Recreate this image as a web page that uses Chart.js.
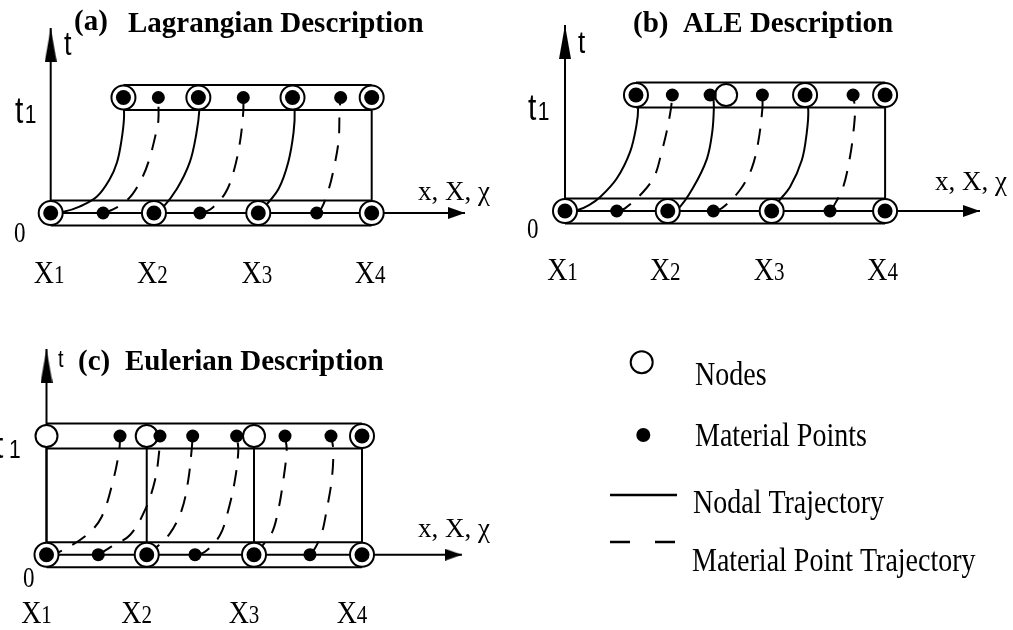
<!DOCTYPE html>
<html>
<head>
<meta charset="utf-8">
<script src="https://cdn.jsdelivr.net/npm/chart.js@4.4.1/dist/chart.umd.min.js"></script>
<style>
html,body{margin:0;padding:0;background:#fff;overflow:hidden}
canvas{display:block;background:#fff}
</style>
</head>
<body>
<canvas id="c" width="1013" height="630"></canvas>
<script>
// ================= DATA (x in element units: X1 = 0 ... X4 = 3; t in units of t1) =================
const xTickLabels = ['X1', 'X2', 'X3', 'X4'];
const tTickLabels = ['0', 't1'];
const xAxisTitle = 'x, X, χ';
const tAxisTitle = 't';
const panelTags = ['(a)', '(b)', '(c)'];
const panelNames = ['Lagrangian Description', 'ALE Description', 'Eulerian Description'];
const legendLabels = ['Nodes', 'Material Points', 'Nodal Trajectory', 'Material Point Trajectory'];

// (a) Lagrangian
const lagNodesAt0 = [0, 0.965, 1.94, 3.0];
const lagPointsAt0 = [0.49, 1.395, 2.486];
const lagNodesAt1 = [0.68, 1.38, 2.26, 3.0];
const lagFreeNodesAt1 = [];
const lagPointsAt1 = [1.006, 1.80, 2.71];
const lagNodePaths = [
  [[0,0],[0.12,0.01],[0.27,0.055],[0.43,0.14],[0.55,0.29],[0.62,0.44],[0.66,0.62],[0.685,0.82],[0.68,1]],
  [[0.965,0],[1.04,0.04],[1.18,0.21],[1.30,0.44],[1.36,0.68],[1.39,0.9],[1.38,1]],
  [[1.94,0],[2.0,0.055],[2.13,0.21],[2.22,0.44],[2.27,0.7],[2.28,0.9],[2.26,1]],
  [[3,0],[3,1]]
];
const lagPointPaths = [
  [[0.49,0],[0.57,0.026],[0.68,0.084],[0.77,0.17],[0.86,0.315],[0.92,0.46],[0.98,0.675],[1.006,0.8],[1.006,1]],
  [[1.395,0],[1.49,0.03],[1.63,0.17],[1.71,0.36],[1.77,0.62],[1.80,0.88],[1.80,1]],
  [[2.486,0],[2.53,0.04],[2.59,0.18],[2.64,0.36],[2.69,0.62],[2.70,0.88],[2.71,1]]
];

// (b) ALE
const aleNodesAt0 = [0, 0.963, 1.937, 3.0];
const alePointsAt0 = [0.485, 1.39, 2.484];
const aleNodesAt1 = [0.665, 2.25, 3.0];
const aleFreeNodesAt1 = [1.51];
const alePointsAt1 = [1.006, 1.36, 1.85, 2.70];
const aleNodePaths = [
  [[0,0],[0.125,0.01],[0.225,0.05],[0.33,0.12],[0.485,0.28],[0.61,0.51],[0.67,0.74],[0.685,0.885],[0.665,1]],
  [[0.963,0],[1.06,0.02],[1.20,0.2],[1.33,0.45],[1.38,0.68],[1.395,0.885],[1.39,1]],
  [[1.937,0],[1.985,0.066],[2.11,0.21],[2.22,0.44],[2.265,0.67],[2.28,0.87],[2.25,1]],
  [[3,0],[3,1]]
];
const alePointPaths = [
  [[0.485,0],[0.562,0.023],[0.734,0.166],[0.843,0.31],[0.906,0.51],[0.953,0.684],[0.993,0.885],[1.006,1]],
  [[1.39,0],[1.469,0.023],[1.64,0.181],[1.75,0.368],[1.812,0.6],[1.85,0.885],[1.85,1]],
  [[2.484,0],[2.515,0.037],[2.608,0.21],[2.671,0.468],[2.70,0.655],[2.718,0.87],[2.70,1]]
];

// (c) Eulerian
const eulNodesAt0 = [0, 0.953, 1.973, 3.0];
const eulPointsAt0 = [0.4925, 1.412, 2.505];
const eulNodesAt1 = [3.0];
const eulFreeNodesAt1 = [0, 0.953, 1.973];
const eulPointsAt1 = [0.699, 1.079, 1.39, 1.808, 2.268, 2.705];
const eulNodePaths = [
  [[0,0],[0,1]],
  [[0.953,0],[0.953,1]],
  [[1.973,0],[1.973,1]],
  [[3,0],[3,1]]
];
const eulPointPaths = [
  [[0,0],[0.097,0.012],[0.382,0.166],[0.525,0.32],[0.635,0.63],[0.692,0.882],[0.699,1]],
  [[0.4925,0],[0.62,0.07],[0.794,0.166],[0.937,0.377],[1.032,0.63],[1.073,0.882],[1.079,1]],
  [[0.953,0],[1.016,0.04],[1.174,0.18],[1.286,0.377],[1.348,0.63],[1.38,0.882],[1.39,1]],
  [[1.412,0],[1.507,0.025],[1.65,0.166],[1.729,0.377],[1.792,0.63],[1.824,0.882],[1.808,1]],
  [[1.973,0],[2.03,0.054],[2.141,0.18],[2.204,0.377],[2.252,0.63],[2.284,0.882],[2.268,1]],
  [[2.505,0],[2.553,0.054],[2.617,0.18],[2.664,0.377],[2.712,0.63],[2.727,0.882],[2.705,1]]
];

// ================= LAYOUT & STYLE =================
const W = 1013, H = 630;
const SERIF = '"Liberation Serif", "Times New Roman", serif';
const SANS = '"Liberation Sans", Arial, sans-serif';
const LINE_W = 2;
const TUBE_HALF = 12.5;
const NODE_R = 12, NODE_IN_R = 7.5, FREE_NODE_R = 11, POINT_R = 6.5;
const DASH = [16, 12];

const panels = [
  { key:'a', ox:50.7, oy:213, sx:107, st:115.5, tTip:1.602, xTip:3.872,
    nodes0:lagNodesAt0, points0:lagPointsAt0, nodes1:lagNodesAt1, free1:lagFreeNodesAt1, points1:lagPointsAt1,
    nodePaths:lagNodePaths, pointPaths:lagPointPaths,
    tagPos:[74,29.5], namePos:[128,32.3], tPos:[64,55,27], t1Pos:[15,123], t1SubX:null, zeroPos:[14,242],
    xLabDx:-1.5, xLabBase:283, axTitlePos:[418,200] },
  { key:'b', ox:565, oy:211, sx:106.7, st:116, tTip:1.603, xTip:3.889,
    nodes0:aleNodesAt0, points0:alePointsAt0, nodes1:aleNodesAt1, free1:aleFreeNodesAt1, points1:alePointsAt1,
    nodePaths:aleNodePaths, pointPaths:alePointPaths,
    tagPos:[633,32], namePos:[683,32], tPos:[578,53,26], t1Pos:[528,120], t1SubX:null, zeroPos:[527,238],
    xLabDx:-2.5, xLabBase:280, axTitlePos:[935,190] },
  { key:'c', ox:46.5, oy:554.7, sx:105.17, st:118.7, tTip:1.733, xTip:3.95,
    nodes0:eulNodesAt0, points0:eulPointsAt0, nodes1:eulNodesAt1, free1:eulFreeNodesAt1, points1:eulPointsAt1,
    nodePaths:eulNodePaths, pointPaths:eulPointPaths,
    tagPos:[78,370], namePos:[125,370], tPos:[58,367,20], t1Pos:[-5,458], t1SubX:9, zeroPos:[23,587],
    xLabDx:-10, xLabBase:623, axTitlePos:[418,537] }
];

const legendLayout = {
  nodeC:[641.7,362.3], nodeR:11, pointC:[643.3,435], pointR:7,
  solid:[610,677,495], dashed:[610,677,542], dash:[20,25], lineW:2.5,
  text:[[695,385],[695,446],[693,513],[692,571]]
};

// arrowhead images (tip at image centre)
function arrowCanvas(len, wid, dir) {
  const c = document.createElement('canvas');
  if (dir === 'up') { c.width = wid; c.height = 2 * len; } else { c.width = 2 * len; c.height = wid; }
  const g = c.getContext('2d');
  g.fillStyle = '#000';
  g.beginPath();
  if (dir === 'up') { g.moveTo(wid / 2, len); g.lineTo(wid, 2 * len); g.lineTo(0, 2 * len); }
  else { g.moveTo(len, wid / 2); g.lineTo(0, wid); g.lineTo(0, 0); }
  g.closePath(); g.fill();
  return c;
}
const ARROW_UP = arrowCanvas(34, 12, 'up');
const ARROW_RIGHT = arrowCanvas(17, 12, 'right');

// ================= BUILD DATASETS =================
const xy = pairs => pairs.map(([x, y]) => ({x, y}));
const row = (xs, t) => xs.map(x => ({x, y: t}));

const datasets = [];
const scales = {};
panels.forEach(P => {
  const ax = 'x' + P.key, ay = 'y' + P.key;
  scales[ax] = {type:'linear', axis:'x', display:false, bounds:'data', min:-P.ox / P.sx, max:(W - P.ox) / P.sx};
  scales[ay] = {type:'linear', axis:'y', display:false, bounds:'data', min:-(H - P.oy) / P.st, max:P.oy / P.st};
  const h = TUBE_HALF / P.st;
  const L = (data, extra) => datasets.push(Object.assign({type:'line', xAxisID:ax, yAxisID:ay, data,
    borderColor:'#000', borderWidth:LINE_W, pointRadius:0, fill:false, tension:0, borderCapStyle:'butt'}, extra || {}));
  const M = (data, extra) => datasets.push(Object.assign({type:'scatter', xAxisID:ax, yAxisID:ay, data,
    showLine:false, pointStyle:'circle'}, extra || {}));

  const top = P.nodes1.concat(P.free1);
  const b0 = P.nodes0[0], b1 = P.nodes0[P.nodes0.length - 1];
  const u0 = Math.min.apply(null, top), u1 = Math.max.apply(null, top);
  // tubes
  L([{x:b0, y:h}, {x:b1, y:h}]);
  L([{x:b0, y:-h}, {x:b1, y:-h}]);
  L([{x:u0, y:1 + h}, {x:u1, y:1 + h}]);
  L([{x:u0, y:1 - h}, {x:u1, y:1 - h}]);
  // axes
  L([{x:0, y:0}, {x:P.xTip, y:0}]);
  L([{x:0, y:0}, {x:0, y:P.tTip}]);
  // trajectories
  P.nodePaths.forEach(p => L(xy(p), {tension:0.35}));
  P.pointPaths.forEach(p => L(xy(p), {tension:0.35, borderDash:DASH}));
  // arrowheads
  M([{x:0, y:P.tTip}], {pointStyle:ARROW_UP, pointRadius:5});
  M([{x:P.xTip, y:0}], {pointStyle:ARROW_RIGHT, pointRadius:5});
  // nodes
  const nodes = row(P.nodes0, 0).concat(row(P.nodes1, 1));
  M(nodes, {pointRadius:NODE_R, pointBackgroundColor:'#fff', pointBorderColor:'#000', pointBorderWidth:2});
  if (P.free1.length) M(row(P.free1, 1), {pointRadius:FREE_NODE_R, pointBackgroundColor:'#fff', pointBorderColor:'#000', pointBorderWidth:2});
  M(nodes, {pointRadius:NODE_IN_R, pointBackgroundColor:'#000', pointBorderColor:'#000', pointBorderWidth:0});
  // material points
  M(row(P.points0, 0).concat(row(P.points1, 1)), {pointRadius:POINT_R, pointBackgroundColor:'#000', pointBorderColor:'#000', pointBorderWidth:0});
});
datasets.forEach((d, i) => { d.order = -i; });

// ================= TEXT & LEGEND PLUGIN =================
function txt(ctx, s, x, y, font, sy) {
  ctx.save();
  ctx.font = font;
  ctx.fillStyle = '#000';
  ctx.textAlign = 'left';
  ctx.textBaseline = 'alphabetic';
  ctx.translate(x, y);
  ctx.scale(1, sy || 1);
  ctx.fillText(s, 0, 0);
  ctx.restore();
}
function measure(ctx, s, font) { ctx.save(); ctx.font = font; const w = ctx.measureText(s).width; ctx.restore(); return w; }

const diagramText = {
  id: 'diagramText',
  afterDraw(chart) {
    const ctx = chart.ctx;
    panels.forEach((P, i) => {
      const xs = chart.scales['x' + P.key];
      const titleFont = 'bold 29px ' + SERIF;
      txt(ctx, panelTags[i], P.tagPos[0], P.tagPos[1], titleFont);
      txt(ctx, panelNames[i], P.namePos[0], P.namePos[1], titleFont);
      txt(ctx, tAxisTitle, P.tPos[0], P.tPos[1], P.tPos[2] + 'px ' + SANS, 1.2);
      txt(ctx, tTickLabels[0], P.zeroPos[0], P.zeroPos[1], '23px ' + SERIF, 1.3);
      const t1 = tTickLabels[1];
      const f1 = '30px ' + SANS, f2 = '21px ' + SANS;
      const w1 = measure(ctx, t1[0], f1);
      txt(ctx, t1[0], P.t1Pos[0], P.t1Pos[1], f1, 1.2);
      const subX = (P.t1SubX !== null) ? P.t1SubX : P.t1Pos[0] + w1 + 1.5;
      txt(ctx, t1.slice(1), subX, P.t1Pos[1], f2, 1.2);
      const fm = '28px ' + SERIF, fs = '21px ' + SERIF;
      P.nodes0.forEach((v, k) => {
        const lab = xTickLabels[k];
        const wm = measure(ctx, lab[0], fm), ws = measure(ctx, lab.slice(1), fs);
        const cx = xs.getPixelForValue(v) + P.xLabDx;
        const x0 = cx - (wm + ws) / 2;
        txt(ctx, lab[0], x0, P.xLabBase, fm, 1.15);
        txt(ctx, lab.slice(1), x0 + wm, P.xLabBase, fs, 1.15);
      });
      txt(ctx, xAxisTitle, P.axTitlePos[0], P.axTitlePos[1], '27px ' + SERIF);
    });
    // legend
    const G = legendLayout;
    ctx.save();
    ctx.strokeStyle = '#000'; ctx.fillStyle = '#fff'; ctx.lineWidth = 2;
    ctx.beginPath(); ctx.arc(G.nodeC[0], G.nodeC[1], G.nodeR, 0, Math.PI * 2); ctx.fill(); ctx.stroke();
    ctx.fillStyle = '#000';
    ctx.beginPath(); ctx.arc(G.pointC[0], G.pointC[1], G.pointR, 0, Math.PI * 2); ctx.fill();
    ctx.lineWidth = G.lineW;
    ctx.beginPath(); ctx.moveTo(G.solid[0], G.solid[2]); ctx.lineTo(G.solid[1], G.solid[2]); ctx.stroke();
    ctx.setLineDash(G.dash);
    ctx.beginPath(); ctx.moveTo(G.dashed[0], G.dashed[2]); ctx.lineTo(G.dashed[1], G.dashed[2]); ctx.stroke();
    ctx.restore();
    legendLabels.forEach((s, k) => txt(ctx, s, G.text[k][0], G.text[k][1], '28px ' + SERIF, 1.2));
  }
};

new Chart(document.getElementById('c'), {
  type: 'scatter',
  data: { datasets },
  options: {
    responsive: false,
    maintainAspectRatio: false,
    devicePixelRatio: 1,
    animation: false,
    events: [],
    layout: { padding: 0, autoPadding: false },
    scales,
    plugins: { legend: { display: false }, tooltip: { enabled: false }, title: { display: false } }
  },
  plugins: [diagramText]
});
</script>
</body>
</html>
